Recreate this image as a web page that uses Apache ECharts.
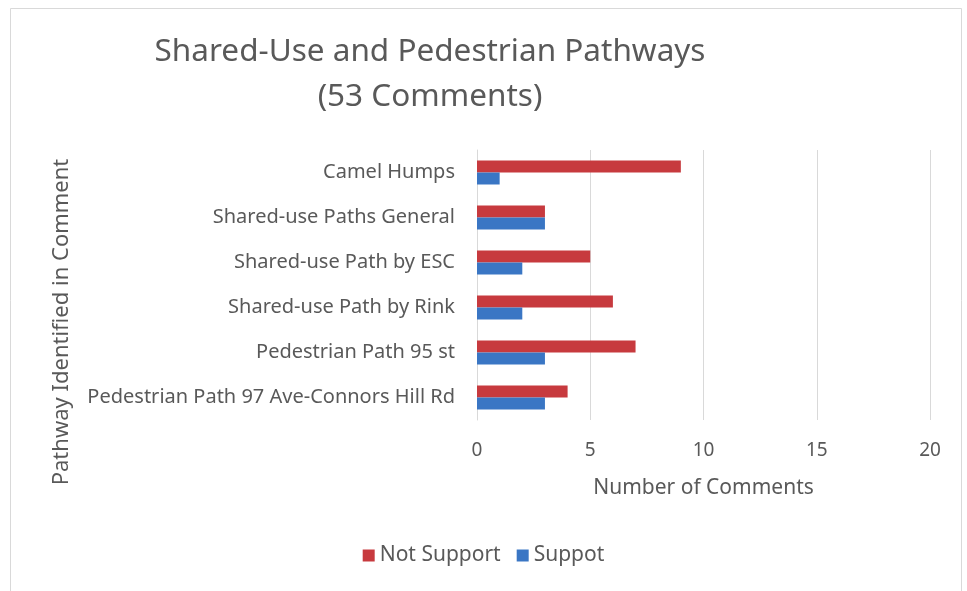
<!DOCTYPE html>
<html>
<head>
<meta charset="utf-8">
<script src="https://cdn.jsdelivr.net/npm/echarts@6/dist/echarts.min.js"></script>
<style>
  html, body { margin: 0; padding: 0; background: #fff; }
  #chart { width: 967px; height: 591px; }
</style>
</head>
<body>
<div id="chart"></div>
<script>
// 类目（从上到下）
const categories = [
  'Camel Humps',
  'Shared-use Paths General',
  'Shared-use Path by ESC',
  'Shared-use Path by Rink',
  'Pedestrian Path 95 st',
  'Pedestrian Path 97 Ave-Connors Hill Rd'
]
const notSupport = [9, 3, 5, 6, 7, 4]
const suppot = [1, 3, 2, 2, 3, 3]
const xTicks = [0, 5, 10, 15, 20]

const textColor = '#595959'
const font = 'Noto Sans'

const chart = echarts.init(document.getElementById('chart'))
const option = {
  backgroundColor: '#fff',
  animation: false,
  title: {
    text: 'Shared-Use and Pedestrian Pathways\n(53 Comments)',
    left: 425,
    top: 25,
    textAlign: 'center',
    textStyle: {
      color: textColor,
      fontFamily: font,
      fontSize: 31.5,
      fontWeight: 'normal',
      lineHeight: 45
    }
  },
  legend: {
    bottom: 20,
    left: 'center',
    icon: 'rect',
    itemWidth: 12,
    itemHeight: 12,
    itemGap: 16,
    textStyle: { color: textColor, fontFamily: font, fontSize: 21 },
    data: ['Not Support', 'Suppot']
  },
  graphic: [
    {
      type: 'rect',
      shape: { x: 10.5, y: 8.5, width: 951, height: 600 },
      style: { fill: 'none', stroke: '#d9d9d9', lineWidth: 1 },
      silent: true
    },
    {
      type: 'text',
      x: 62,
      y: 322,
      rotation: Math.PI / 2,
      style: {
        text: 'Pathway Identified in Comment',
        fill: textColor,
        font: '22px "Noto Sans"',
        textAlign: 'center',
        textVerticalAlign: 'middle'
      }
    }
  ],
  grid: {
    left: 477,
    right: 37,
    top: 150,
    height: 270
  },
  xAxis: {
    type: 'value',
    min: xTicks[0],
    max: xTicks[xTicks.length - 1],
    interval: 5,
    name: 'Number of Comments',
    nameLocation: 'middle',
    nameGap: 58,
    nameTextStyle: { color: textColor, fontFamily: font, fontSize: 21 },
    axisLine: { show: false },
    axisTick: { show: false },
    axisLabel: { color: textColor, fontFamily: font, fontSize: 19, margin: 21 },
    splitLine: { lineStyle: { color: '#d9d9d9', width: 1 } }
  },
  yAxis: {
    type: 'category',
    inverse: true,
    data: categories,
    axisLine: { show: true, lineStyle: { color: '#d9d9d9' } },
    axisTick: { show: false },
    axisLabel: { color: textColor, fontFamily: font, fontSize: 20, margin: 22 }
  },
  series: [
    {
      name: 'Not Support',
      type: 'bar',
      barWidth: 12,
      barGap: '0%',
      itemStyle: { color: '#C73A3E' },
      data: notSupport
    },
    {
      name: 'Suppot',
      type: 'bar',
      barWidth: 12,
      barGap: '0%',
      itemStyle: { color: '#3A76C4' },
      data: suppot
    }
  ]
}
chart.setOption(option)
</script>
</body>
</html>
